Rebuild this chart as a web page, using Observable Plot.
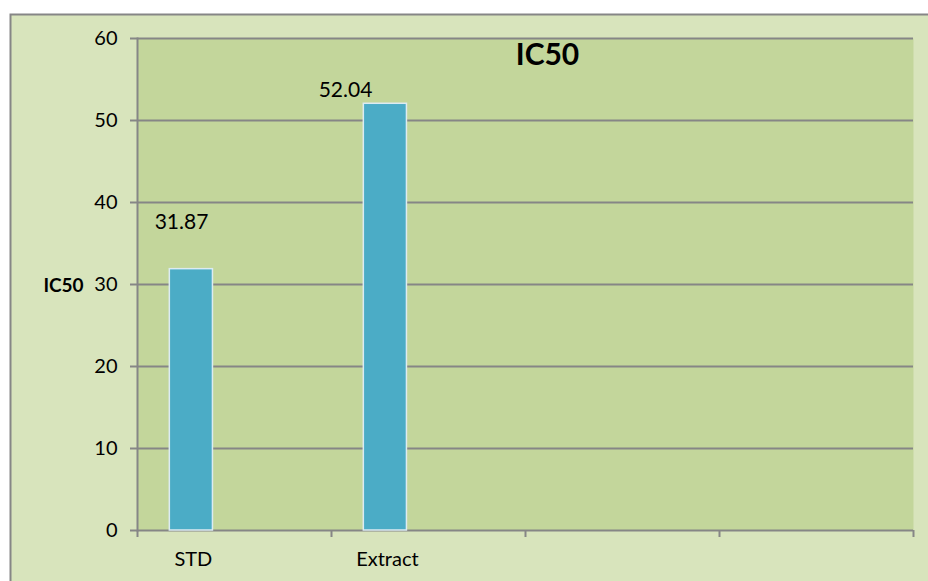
<!DOCTYPE html>
<html>
<head>
<meta charset="utf-8">
<script src="https://cdn.jsdelivr.net/npm/d3@7"></script>
<script src="https://cdn.jsdelivr.net/npm/@observablehq/plot@0.6"></script>
<style>
  html, body { margin: 0; padding: 0; background: #ffffff; }
  #chart svg { display: block; }
</style>
</head>
<body>
<div id="chart"></div>
<script>
// Category slots along the x axis (the last two are empty slots)
const categories = ["STD", "Extract", "", " "];
// IC50 values for the measured samples
const samples = ["STD", "Extract"];
const values = [31.87, 52.04];
// Y axis ticks
const yTicks = [0, 10, 20, 30, 40, 50, 60];

const data = samples.map((s, i) => ({category: s, value: values[i]}));

const W = 928, H = 581;
const margin = {top: 38, right: 15, bottom: 51, left: 137};
const bw = (W - margin.left - margin.right) / categories.length;
// clustered-column layout: 3 series slots per category, gap width of 1.5 slots
const slot = bw / 4.5;
const insetL = slot * 0.75;
const insetR = bw - insetL - slot;
const barCenterDx = insetL + slot / 2 - bw / 2;

const grey = "#868686";
const font = "Lato, 'Open Sans', sans-serif";

const chart = Plot.plot({
  width: W,
  height: H,
  marginTop: margin.top,
  marginRight: margin.right,
  marginBottom: margin.bottom,
  marginLeft: margin.left,
  style: {background: "transparent", fontFamily: font, color: "#000"},
  x: {type: "band", domain: categories, padding: 0, axis: null},
  y: {domain: [0, 60], axis: null},
  marks: [
    // outer chart area
    Plot.frame({fill: "#d8e4bc", stroke: grey, strokeWidth: 2,
      insetLeft: -127, insetTop: -24, insetRight: -40, insetBottom: -70}),
    // plot area
    Plot.frame({fill: "#c3d69b"}),
    // horizontal gridlines
    Plot.ruleY(yTicks, {stroke: grey, strokeWidth: 2}),
    // y axis line
    Plot.frame({anchor: "left", stroke: grey, strokeWidth: 2}),
    // y ticks and labels
    Plot.axisY(yTicks, {tickSize: 7, tickPadding: 13, stroke: grey, strokeWidth: 2,
      fill: "#000", fontSize: 20, label: null}),
    // x tick marks on category boundaries
    Plot.axisX(categories, {tickSize: 7, dx: -bw / 2, stroke: grey, strokeWidth: 2,
      tickFormat: () => "", label: null}),
    Plot.axisX(categories.slice(-1), {tickSize: 7, dx: bw / 2, stroke: grey, strokeWidth: 2,
      tickFormat: () => "", label: null}),
    // bars
    Plot.barY(data, {x: "category", y: "value", fill: "#4bacc6",
      stroke: "#dcebf2", strokeWidth: 1.5, insetLeft: insetL, insetRight: insetR}),
    // value labels
    Plot.text(data.filter(d => d.category === "STD"), {x: "category", y: "value",
      text: d => d.value.toFixed(2), dx: -53, dy: -47, fontSize: 21, fill: "#000",
      lineAnchor: "middle"}),
    Plot.text(data.filter(d => d.category === "Extract"), {x: "category", y: "value",
      text: d => d.value.toFixed(2), dx: -83, dy: -14, fontSize: 21, fill: "#000",
      lineAnchor: "middle"}),
    // category labels
    Plot.text(data, {x: "category", text: "category", frameAnchor: "bottom",
      dx: barCenterDx + 2, dy: 29, fontSize: 20, fill: "#000", lineAnchor: "middle"}),
    // chart title
    Plot.text(["IC50"], {frameAnchor: "top", dx: 22, dy: 17, fontSize: 30,
      fontWeight: "bold", fill: "#000", lineAnchor: "middle"}),
    // y axis title
    Plot.text(["IC50"], {frameAnchor: "left", dx: -74, dy: 1, fontSize: 19,
      fontWeight: "bold", fill: "#000", textAnchor: "middle", lineAnchor: "middle"})
  ]
});

document.getElementById("chart").append(chart);
</script>
</body>
</html>
